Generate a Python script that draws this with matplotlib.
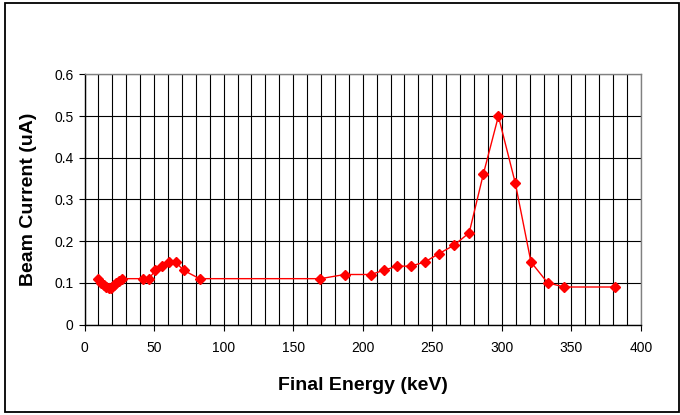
import numpy as np
import matplotlib.pyplot as plt
from matplotlib.patches import Rectangle

plt.rcParams['font.family'] = ['Liberation Sans', 'DejaVu Sans']

# beam current vs final energy
energy = [10, 12, 13.7, 15.6, 17.5, 19.2, 21.1, 22.8, 24.7, 26.6,
          42, 46.3, 51, 55.4, 60.7, 65.5, 71.2, 82.7,
          169.6, 187, 205.8, 215, 224.7, 234.5, 244.6, 254.7, 265.5,
          276.5, 286.6, 297.5, 309.6, 320.9, 332.9, 344.9, 381.5]
current = [0.11, 0.10, 0.095, 0.09, 0.087, 0.088, 0.094, 0.10, 0.105, 0.11,
           0.11, 0.11, 0.13, 0.14, 0.15, 0.15, 0.13, 0.11,
           0.11, 0.12, 0.12, 0.13, 0.14, 0.14, 0.15, 0.17, 0.19,
           0.22, 0.36, 0.50, 0.34, 0.15, 0.10, 0.09, 0.09]

fig = plt.figure(figsize=(6.8, 4.15), dpi=100)
ax = fig.add_axes([84.5/680, 1-324.5/415, (641-84.5)/680, (324.5-74.5)/415])

# outer chart border
fig.add_artist(Rectangle((4.5/680, 3/415), (678.5-4.5)/680, 409/415, transform=fig.transFigure,
                         fill=False, edgecolor='black', lw=1.3))

ax.plot(energy, current, color='red', lw=1, marker='D', ms=5.5, zorder=3)

ax.set_xlim(0, 400)
ax.set_ylim(0, 0.6)
ax.set_xticks(np.arange(0, 401, 50))
ax.set_xticks(np.arange(0, 401, 10), minor=True)
ax.set_yticks(np.arange(0, 0.61, 0.1))
ax.set_yticklabels(['0', '0.1', '0.2', '0.3', '0.4', '0.5', '0.6'])
ax.grid(True, which='both', axis='x', color='black', lw=0.8)
ax.grid(True, which='major', axis='y', color='black', lw=0.8)
ax.tick_params(which='minor', length=0)
ax.tick_params(which='major', direction='out', length=4, width=0.8, labelsize=10, pad=8)
ax.tick_params(axis='y', pad=4)
ax.set_axisbelow(True)

for s in ['top', 'right']:
    ax.spines[s].set_color('#808080')
    ax.spines[s].set_linewidth(1)
for s in ['left', 'bottom']:
    ax.spines[s].set_color('black')
    ax.spines[s].set_linewidth(1)

ax.set_xlabel('Final Energy (keV)', fontsize=14, fontweight='bold', labelpad=16)
ax.set_ylabel('Beam Current (uA)', fontsize=14, fontweight='bold', labelpad=12)

fig.savefig('out.png', dpi=100)
